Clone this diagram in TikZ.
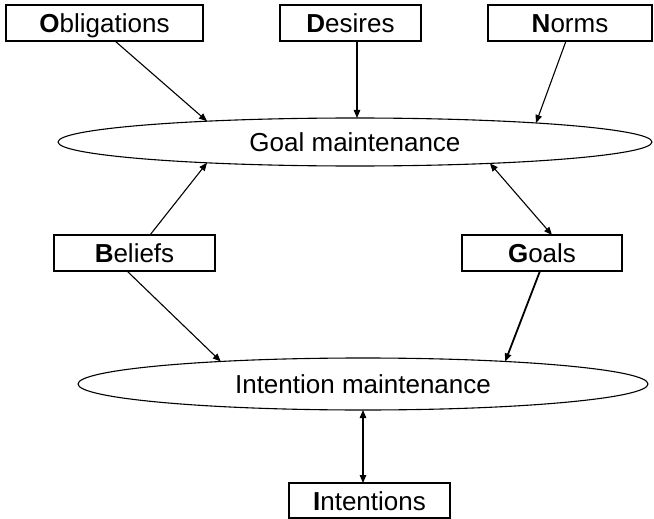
\documentclass[tikz,border=0pt]{standalone}
\usepackage{fontspec}
\setmainfont{Liberation Sans}
\usetikzlibrary{arrows.meta,shapes.geometric,calc}
\begin{document}
\begin{tikzpicture}[x=1pt,y=-1pt,
  font=\fontsize{26}{30}\selectfont,
  box/.style={draw,line width=1.1pt,rectangle,fill=white,inner sep=0pt,outer sep=0pt,minimum height=36pt,text height=19pt,text depth=0pt},
  oval/.style={draw,line width=1.1pt,ellipse,inner sep=0pt,outer sep=0pt,text height=19pt,text depth=0pt},
  conn/.style={line width=1.1pt,-{Triangle[length=8pt,width=6.5pt]}},
  both/.style={line width=1.1pt,{Triangle[length=8pt,width=6.5pt]}-{Triangle[length=8pt,width=6.5pt]}}]
\path[use as bounding box,fill=white] (0,0) rectangle (654,519);
% boxes
\node[box,minimum width=197pt] (obl) at (104.5,23) {\textbf{O}bligations};
\node[box,minimum width=141pt] (des) at (350.5,23) {\textbf{D}esires};
\node[box,minimum width=164pt] (nor) at (570,23) {\textbf{N}orms};
\node[box,minimum width=161pt] (bel) at (134.5,253) {\textbf{B}eliefs};
\node[box,minimum width=160pt] (goa) at (542,253) {\textbf{G}oals};
\node[box,minimum width=161pt,minimum height=35pt] (int) at (369.5,500.5) {\textbf{I}ntentions};
% ellipses
\node[oval,minimum width=594pt,minimum height=48pt] (goal) at (355,142) {Goal maintenance};
\node[oval,minimum width=570pt,minimum height=52pt] (intm) at (363,384) {Intention maintenance};
% connectors
\draw[conn] ($(obl.south)+(10.5,0)$) -- (goal.172.73);
\coordinate (d1) at ($(des.south)+(6.5,0)$);
\draw[conn] (d1) -- (d1 |- goal.north);
\draw[conn] ($(nor.south)+(-4,0)$) -- (goal.6.43);
\draw[conn] ($(bel.north)+(15.5,0)$) -- (goal.188.51);
\draw[both] (goal.351.85) -- ($(goa.north)+(10,0)$);
\draw[conn] ($(bel.south)+(-7.5,0)$) -- (intm.171.53);
\draw[conn,line width=1.8pt] ($(goa.south)+(-2,0)$) -- (intm.9.54);
\draw[both] (intm.south) -- (intm.south |- int.north);
\end{tikzpicture}
\end{document}
